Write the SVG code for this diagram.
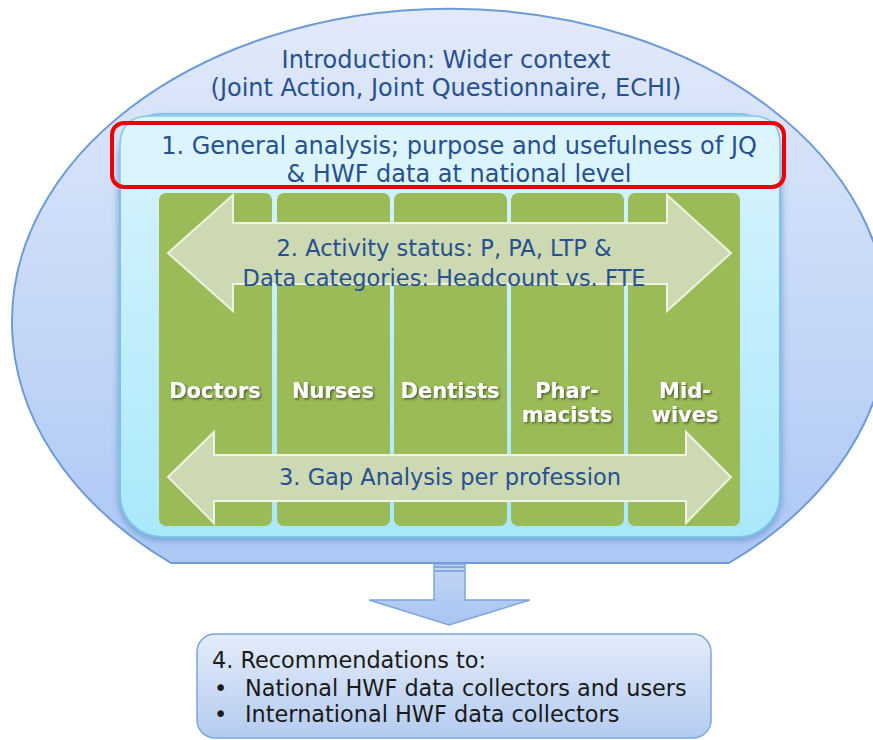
<svg xmlns="http://www.w3.org/2000/svg" width="873" height="740" viewBox="0 0 873 740">
<defs>
<linearGradient id="gOuter" x1="0" y1="0" x2="0" y2="1">
<stop offset="0" stop-color="#e2eafa"/><stop offset="1" stop-color="#adc8f5"/>
</linearGradient>
<linearGradient id="gInner" x1="0" y1="0" x2="0" y2="1">
<stop offset="0" stop-color="#d9f4fd"/><stop offset="1" stop-color="#a9e8fb"/>
</linearGradient>
<linearGradient id="gBox4" x1="0" y1="0" x2="0" y2="1">
<stop offset="0" stop-color="#e4ecfa"/><stop offset="1" stop-color="#b4cbf1"/>
</linearGradient>
<linearGradient id="gDown" x1="0" y1="0" x2="0" y2="1">
<stop offset="0" stop-color="#c3d6f6"/><stop offset="1" stop-color="#a9c4f0"/>
</linearGradient>
<filter id="soft" x="-10%" y="-10%" width="120%" height="120%">
<feGaussianBlur stdDeviation="3"/>
</filter>
<filter id="tshadow" x="-20%" y="-20%" width="140%" height="140%">
<feDropShadow dx="1.5" dy="1.5" stdDeviation="0.8" flood-color="#3c4a20" flood-opacity="0.8"/>
</filter>
</defs>
<style>
.blue{font-family:"DejaVu Sans",Verdana,sans-serif;font-size:24px;fill:#27508f;text-anchor:middle}
.mid{font-size:22.5px}
.col{fill:#9bbb59}
.lab{font-family:"DejaVu Sans",Verdana,sans-serif;font-weight:bold;font-size:21px;fill:#ffffff;text-anchor:middle}
.darr{fill:#cdd9b3;stroke:#eef3e2;stroke-width:2}
.rec{font-family:"DejaVu Sans",Verdana,sans-serif;font-size:22.4px;fill:#1a1a1a}
</style>

<g id="outer">
<path d="M 171 563 A 438 313 0 1 1 729 563 Z" fill="url(#gOuter)" stroke="#6e9bd5" stroke-width="2"/>
<text class="blue" x="446" y="68">Introduction: Wider context</text>
<text class="blue" x="446" y="96">(Joint Action, Joint Questionnaire, ECHI)</text>
</g>

<g id="inner">
<rect x="118" y="117" width="664" height="424" rx="44" fill="#4f86c0" opacity="0.6" filter="url(#soft)"/>
<rect x="120" y="114" width="660" height="423" rx="42" fill="url(#gInner)" stroke="#7cc3e4" stroke-width="2"/>
</g>

<g id="box1">
<path d="M 150 116 H 752 Q 780 116 780 144 V 186 H 120 V 146 Q 120 116 150 116 Z" fill="#dcf5fd" stroke="#8bc7e6" stroke-width="1.5"/>
<rect x="112" y="123" width="672" height="64" rx="12" fill="none" stroke="#ee0000" stroke-width="4"/>
<text class="blue" x="459" y="154">1. General analysis; purpose and usefulness of JQ</text>
<text class="blue" x="459" y="182">&amp; HWF data at national level</text>
</g>

<g id="columns">
<g id="doctors"><rect class="col" x="159" y="193" width="113" height="333" rx="7"/><text class="lab" x="215" y="398" filter="url(#tshadow)">Doctors</text></g>
<g id="nurses"><rect class="col" x="277" y="193" width="113" height="333" rx="7"/><text class="lab" x="333" y="398" filter="url(#tshadow)">Nurses</text></g>
<g id="dentists"><rect class="col" x="394" y="193" width="113" height="333" rx="7"/><text class="lab" x="450" y="398" filter="url(#tshadow)">Dentists</text></g>
<g id="pharmacists"><rect class="col" x="511" y="193" width="113" height="333" rx="7"/><text class="lab" x="567" y="398" filter="url(#tshadow)">Phar-</text><text class="lab" x="567" y="422" filter="url(#tshadow)">macists</text></g>
<g id="midwives"><rect class="col" x="628" y="193" width="112" height="333" rx="7"/><text class="lab" x="685" y="398" filter="url(#tshadow)">Mid-</text><text class="lab" x="685" y="422" filter="url(#tshadow)">wives</text></g>
</g>

<g id="arrow2">
<path class="darr" d="M 168 253 L 233 195 V 223 H 667 V 195 L 731 253 L 667 311 V 284 H 233 V 311 Z"/>
<text class="blue mid" x="444" y="256">2. Activity status: P, PA, LTP &amp;</text>
<text class="blue mid" x="444" y="286">Data categories: Headcount vs. FTE</text>
</g>

<g id="arrow3">
<path class="darr" d="M 168 477 L 214 432 V 455 H 686 V 432 L 731 477 L 686 523 V 501 H 214 V 523 Z"/>
<text class="blue mid" x="450" y="485">3. Gap Analysis per profession</text>
</g>

<g id="connectors">
<path d="M 434 564 H 465 V 600 H 530 L 449 625 L 369 600 H 434 Z" fill="url(#gDown)" stroke="#7ea5dc" stroke-width="1.5"/>
<path d="M 435 567 H 464 M 435 571 H 464" stroke="#6f98d6" stroke-width="1.5"/>
</g>

<g id="box4">
<rect x="197" y="634" width="514" height="104" rx="18" fill="url(#gBox4)" stroke="#7ea5dc" stroke-width="1.5"/>
<text class="rec" x="212" y="668">4. Recommendations to:</text>
<text class="rec" x="214" y="696">•</text>
<text class="rec" x="245" y="696">National HWF data collectors and users</text>
<text class="rec" x="214" y="722">•</text>
<text class="rec" x="245" y="722">International HWF data collectors</text>
</g>
</svg>
